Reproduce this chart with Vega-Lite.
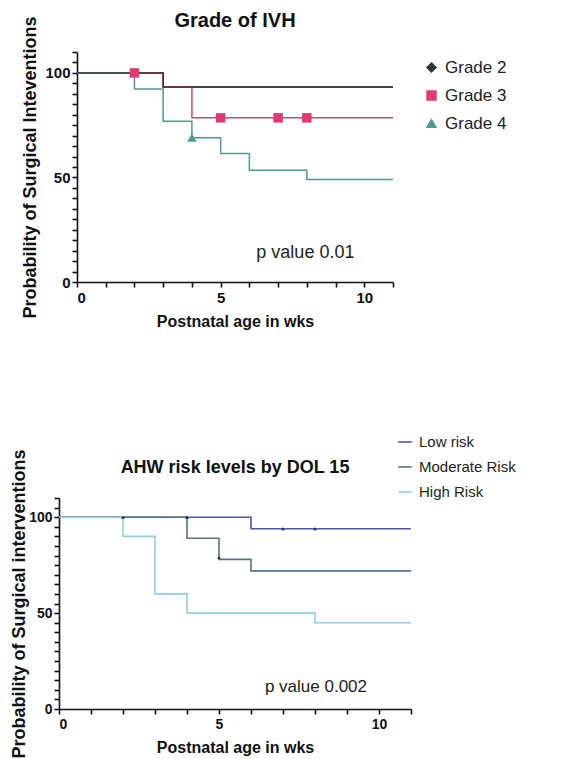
{
  "$schema": "https://vega.github.io/schema/vega-lite/v6.json",
  "padding": {"left": 10, "top": 10, "right": 5, "bottom": 3},
  "background": "white",
  "bounds": "flush",
  "center": true,
  "spacing": 216,
  "config": {
    "font": "Liberation Sans",
    "view": {"stroke": null},
    "axis": {"grid": false, "ticks": true, "domainColor": "#111", "domainWidth": 1.6, "tickColor": "#111", "tickWidth": 1.6, "tickSize": 5, "labelColor": "#111", "labelFont": "Liberation Sans", "labelFontWeight": "bold", "labelOverlap": false, "titleColor": "#111", "titleFont": "Liberation Sans", "titleFontWeight": "bold"},
    "title": {"font": "Liberation Sans", "fontWeight": "bold", "color": "#111", "anchor": "middle"},
    "legend": {"labelFont": "Liberation Sans", "labelColor": "#222"}
  },
  "datasets": {
    "ivh": [
      {"grade": "Grade 2", "wk": 0, "p": 100},
      {"grade": "Grade 2", "wk": 3, "p": 93.3},
      {"grade": "Grade 2", "wk": 11, "p": 93.3},
      {"grade": "Grade 3", "wk": 0, "p": 100},
      {"grade": "Grade 3", "wk": 3, "p": 93.3},
      {"grade": "Grade 3", "wk": 4, "p": 78.5},
      {"grade": "Grade 3", "wk": 11, "p": 78.5},
      {"grade": "Grade 4", "wk": 0, "p": 100},
      {"grade": "Grade 4", "wk": 2, "p": 92.3},
      {"grade": "Grade 4", "wk": 3, "p": 76.9},
      {"grade": "Grade 4", "wk": 4, "p": 69},
      {"grade": "Grade 4", "wk": 5, "p": 61.5},
      {"grade": "Grade 4", "wk": 6, "p": 53.5},
      {"grade": "Grade 4", "wk": 8, "p": 49},
      {"grade": "Grade 4", "wk": 11, "p": 49}
    ],
    "ivhCensor": [
      {"grade": "Grade 3", "wk": 2, "p": 100},
      {"grade": "Grade 3", "wk": 5, "p": 78.5},
      {"grade": "Grade 3", "wk": 7, "p": 78.5},
      {"grade": "Grade 3", "wk": 8, "p": 78.5},
      {"grade": "Grade 4", "wk": 4, "p": 69}
    ],
    "ahw": [
      {"risk": "Low risk", "wk": 0, "p": 100},
      {"risk": "Low risk", "wk": 6, "p": 94},
      {"risk": "Low risk", "wk": 11, "p": 94},
      {"risk": "Moderate Risk", "wk": 0, "p": 100},
      {"risk": "Moderate Risk", "wk": 4, "p": 89},
      {"risk": "Moderate Risk", "wk": 5, "p": 78},
      {"risk": "Moderate Risk", "wk": 6, "p": 72},
      {"risk": "Moderate Risk", "wk": 11, "p": 72},
      {"risk": "High Risk", "wk": 0, "p": 100},
      {"risk": "High Risk", "wk": 2, "p": 90},
      {"risk": "High Risk", "wk": 3, "p": 60},
      {"risk": "High Risk", "wk": 4, "p": 50},
      {"risk": "High Risk", "wk": 8, "p": 45},
      {"risk": "High Risk", "wk": 11, "p": 45}
    ],
    "ahwCensor": [
      {"risk": "Low risk", "wk": 2, "p": 100},
      {"risk": "Low risk", "wk": 4, "p": 100},
      {"risk": "Low risk", "wk": 7, "p": 94},
      {"risk": "Low risk", "wk": 8, "p": 94},
      {"risk": "Moderate Risk", "wk": 5, "p": 79}
    ]
  },
  "resolve": {"scale": {"color": "independent", "shape": "independent", "x": "independent", "y": "independent"}, "legend": {"color": "independent", "shape": "independent"}},
  "vconcat": [
    {
      "width": 316,
      "height": 230,
      "title": {"text": "Grade of IVH", "fontSize": 20, "offset": -15},
      "encoding": {
        "x": {"field": "wk", "type": "quantitative", "scale": {"domain": [0, 11], "nice": false, "zero": false},
          "axis": {"title": "Postnatal age in wks", "values": [0, 1, 2, 3, 4, 5, 6, 7, 8, 9, 10, 11], "labelExpr": "(datum.value === 0 || datum.value === 5 || datum.value === 10) ? datum.label : ''", "labelOverlap": false, "labelFontSize": 15, "titleFontSize": 16, "labelPadding": 3, "titlePadding": 8}},
        "y": {"field": "p", "type": "quantitative", "scale": {"domain": [0, 110], "nice": false, "zero": false},
          "axis": {"title": "Probability of Surgical Inteventions", "values": [0, 5, 10, 15, 20, 25, 30, 35, 40, 45, 50, 55, 60, 65, 70, 75, 80, 85, 90, 95, 100, 105, 110], "labelExpr": "(datum.value === 0 || datum.value === 50 || datum.value === 100) ? datum.label : ''", "labelOverlap": false, "labelFontSize": 15, "titleFontSize": 18, "labelPadding": 2, "titlePadding": 5}}
      },
      "layer": [
        {
          "data": {"name": "ivh"},
          "mark": {"type": "line", "interpolate": "step-after", "strokeWidth": 1.5},
          "encoding": {
            "color": {"field": "grade", "type": "nominal", "scale": {"domain": ["Grade 2", "Grade 3", "Grade 4"], "range": ["#333333", "#e23a70", "#4f9a92"]},
              "legend": {"title": null, "orient": "none", "legendX": 346, "legendY": 7, "labelFontSize": 17, "symbolSize": 80, "rowPadding": 10, "labelOffset": 5}}
          }
        },
        {
          "data": {"name": "ivh"},
          "transform": [{"filter": "datum.grade === 'Grade 2'"}],
          "mark": {"type": "line", "interpolate": "step-after", "strokeWidth": 1.5, "color": "#333333", "opacity": 0.85},
          "encoding": {}
        },
        {
          "data": {"name": "ivhCensor"},
          "mark": {"type": "point", "filled": true, "size": 90, "opacity": 1},
          "encoding": {
            "color": {"field": "grade", "type": "nominal"},
            "shape": {"field": "grade", "type": "nominal", "scale": {"domain": ["Grade 2", "Grade 3", "Grade 4"], "range": ["diamond", "square", "triangle-up"]},
              "legend": {"title": null, "orient": "none", "legendX": 346, "legendY": 7, "labelFontSize": 17, "symbolSize": 80, "rowPadding": 10, "labelOffset": 5}}
          }
        },
        {
          "data": {"values": [{"wk": 7.95, "p": 13.9, "label": "p value 0.01"}]},
          "mark": {"type": "text", "fontSize": 18, "color": "#222", "font": "Liberation Sans", "fontWeight": "normal"},
          "encoding": {
            "text": {"field": "label"}
          }
        }
      ]
    },
    {
      "width": 352,
      "height": 211,
      "title": {"text": "AHW risk levels by DOL 15", "fontSize": 18, "offset": -43},
      "encoding": {
        "x": {"field": "wk", "type": "quantitative", "scale": {"domain": [0, 11], "nice": false, "zero": false},
          "axis": {"title": "Postnatal age in wks", "values": [0, 1, 2, 3, 4, 5, 6, 7, 8, 9, 10, 11], "labelExpr": "(datum.value === 0 || datum.value === 5 || datum.value === 10) ? datum.label : ''", "labelOverlap": false, "labelFontSize": 14, "titleFontSize": 16, "labelPadding": 3, "titlePadding": 8}},
        "y": {"field": "p", "type": "quantitative", "scale": {"domain": [0, 110], "nice": false, "zero": false},
          "axis": {"title": "Probability of Surgical interventions", "values": [0, 5, 10, 15, 20, 25, 30, 35, 40, 45, 50, 55, 60, 65, 70, 75, 80, 85, 90, 95, 100, 105, 110], "labelExpr": "(datum.value === 0 || datum.value === 50 || datum.value === 100) ? datum.label : ''", "labelOverlap": false, "labelFontSize": 14, "titleFontSize": 18, "labelPadding": 2, "titlePadding": 0}}
      },
      "layer": [
        {
          "data": {"name": "ahw"},
          "mark": {"type": "line", "interpolate": "step-after", "strokeWidth": 1.6},
          "encoding": {
            "color": {"field": "risk", "type": "nominal", "scale": {"domain": ["Low risk", "Moderate Risk", "High Risk"], "range": ["#4a56a6", "#557384", "#8fd0dc"]},
              "legend": {"title": null, "orient": "none", "legendX": 338, "legendY": -64, "labelFontSize": 15, "symbolType": "stroke", "symbolSize": 180, "symbolStrokeWidth": 1.6, "rowPadding": 9, "labelOffset": 6}}
          }
        },
        {
          "data": {"name": "ahwCensor"},
          "mark": {"type": "point", "shape": "triangle-up", "filled": true, "size": 14, "opacity": 1, "color": "#1f2a55"},
          "encoding": {}
        },
        {
          "data": {"values": [{"wk": 8.03, "p": 11.5, "label": "p value 0.002"}]},
          "mark": {"type": "text", "fontSize": 17, "color": "#222", "font": "Liberation Sans", "fontWeight": "normal"},
          "encoding": {
            "text": {"field": "label"}
          }
        }
      ]
    }
  ]
}
